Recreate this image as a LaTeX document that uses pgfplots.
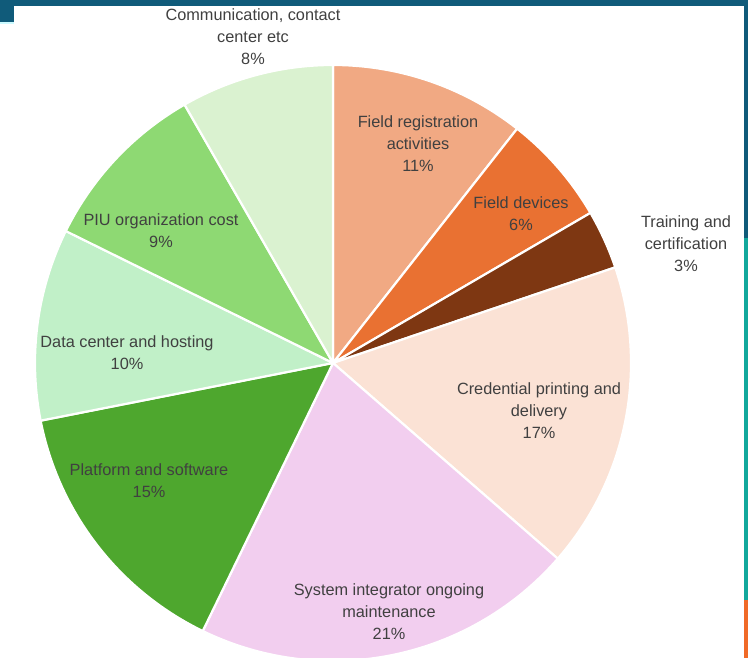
\documentclass[border=0pt]{standalone}
\usepackage{pgfplots}
\pgfplotsset{compat=1.18}
\usepackage{fontspec}
\setmainfont{Liberation Sans}
\definecolor{c1}{HTML}{F1A983}
\definecolor{c2}{HTML}{E97132}
\definecolor{c3}{HTML}{7E3712}
\definecolor{c4}{HTML}{FBE2D5}
\definecolor{c5}{HTML}{F2CEEF}
\definecolor{c6}{HTML}{4EA72E}
\definecolor{c7}{HTML}{C1F0C8}
\definecolor{c8}{HTML}{8ED973}
\definecolor{c9}{HTML}{DAF2D0}
\definecolor{txt}{HTML}{404040}
\definecolor{dblue}{HTML}{105B7A}
\definecolor{teal}{HTML}{12A89C}
\definecolor{oran}{HTML}{F06A28}
% slice: cumulative start (%), value (%), colour
\newcommand{\slice}[3]{%
  \pgfmathsetmacro\aa{90-3.6*(#1+#2)}%
  \pgfmathsetmacro\bb{90-3.6*(#1)}%
  \edef\tmp{\noexpand\addplot[fill=#3, draw=white, line width=2.2pt, line join=round, domain=\aa:\bb, samples=90] ({298*cos(x)},{298*sin(x)}) -- (axis cs:0,0) -- cycle;}%
  \tmp}
\begin{document}
\begin{tikzpicture}[x=1bp,y=1bp,
  lbl/.style={align=center, text=txt, inner sep=0pt, font={\fontsize{16.3bp}{22bp}\selectfont}}]
\fill[white] (0,0) rectangle (748,658);
\begin{axis}[at={(0,0)}, anchor=south west, x=1bp, y=1bp,
  xmin=-333, xmax=415, ymin=-295, ymax=363, hide axis, clip=true]
% values in percent, clockwise from 12 o'clock
\slice{0}{10.6}{c1}      % Field registration activities
\slice{10.6}{6.0}{c2}    % Field devices
\slice{16.6}{3.2}{c3}    % Training and certification
\slice{19.8}{16.6}{c4}   % Credential printing and delivery
\slice{36.4}{20.8}{c5}   % System integrator ongoing maintenance
\slice{57.2}{14.7}{c6}   % Platform and software
\slice{71.9}{10.4}{c7}   % Data center and hosting
\slice{82.3}{9.4}{c8}    % PIU organization cost
\slice{91.7}{8.3}{c9}    % Communication, contact center etc
\node[lbl] at (axis cs:-80,326) {Communication, contact\\center etc\\8\%};
\node[lbl] at (axis cs:85,219) {Field registration\\activities\\11\%};
\node[lbl] at (axis cs:188,149) {Field devices\\6\%};
\node[lbl] at (axis cs:353,119) {Training and\\certification\\3\%};
\node[lbl] at (axis cs:206,-48) {Credential printing and\\delivery\\17\%};
\node[lbl] at (axis cs:56,-249) {System integrator ongoing\\maintenance\\21\%};
\node[lbl] at (axis cs:-184,-118) {Platform and software\\15\%};
\node[lbl] at (axis cs:-206,10) {Data center and hosting\\10\%};
\node[lbl] at (axis cs:-172,132) {PIU organization cost\\9\%};
\end{axis}
% window frame decorations
\fill[dblue] (0,652) rectangle (748,658);
\fill[dblue] (0,636) rectangle (14,658);
\fill[blue!10!cyan!20] (0,634) rectangle (14,636);
\fill[dblue] (744,420) rectangle (748,658);
\fill[teal] (744,58) rectangle (748,420);
\fill[oran] (744,0) rectangle (748,58);
\end{tikzpicture}
\end{document}
